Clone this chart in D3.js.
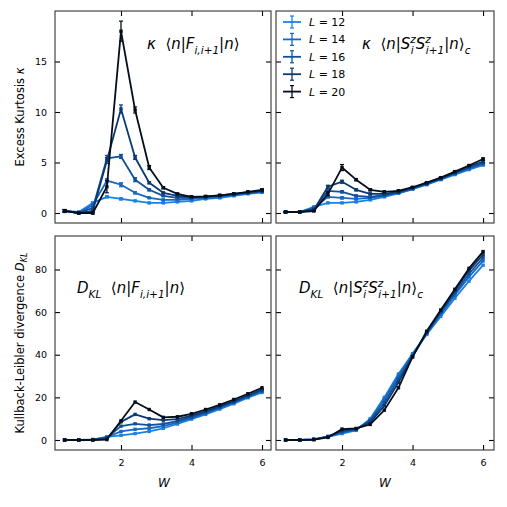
<!DOCTYPE html>
<html><head><meta charset="utf-8">
<script src="https://cdn.jsdelivr.net/npm/d3@7"></script>
<style>
body{margin:0;background:#fff}
svg{display:block}
text{font-family:"DejaVu Sans",sans-serif;fill:#000;white-space:pre}
</style>
</head><body>
<svg id="chart" width="507" height="507"></svg>
<script>
// system sizes and their line colours
var sizes=[12,14,16,18,20];
var colors=["#1a80e6","#1668c4","#10509c","#0a3a72","#050e1c"];

// disorder strength W
var W=[0.4,0.8,1.2,1.6,2.0,2.4,2.8,3.2,3.6,4.0,4.4,4.8,5.2,5.6,6.0];

// excess kurtosis of <n|F_{i,i+1}|n>
var kurtF=[
 [0.2,0.1,1.0,1.6,1.4,1.2,1.0,1.0,1.1,1.2,1.4,1.5,1.7,1.9,2.05],
 [0.2,0.0,0.8,3.2,2.8,2.0,1.5,1.3,1.3,1.4,1.5,1.6,1.8,1.95,2.1],
 [0.2,0.0,0.5,5.4,5.6,3.3,2.3,1.7,1.5,1.5,1.6,1.7,1.85,2.0,2.15],
 [0.2,0.0,0.2,5.2,10.3,5.5,3.0,2.0,1.7,1.6,1.6,1.75,1.9,2.05,2.2],
 [0.2,0.0,0.0,2.6,18.0,10.2,4.5,2.5,1.9,1.6,1.65,1.75,1.9,2.1,2.3]
];
var kurtFErr=[
 [0.1,0.05,0.1,0.1,0.1,0.05,0.05,0.05,0.05,0.05,0.05,0.05,0.05,0.05,0.05],
 [0.1,0.05,0.1,0.2,0.2,0.1,0.05,0.05,0.05,0.05,0.05,0.05,0.05,0.05,0.05],
 [0.1,0.05,0.1,0.3,0.2,0.2,0.1,0.05,0.05,0.05,0.05,0.05,0.05,0.05,0.05],
 [0.1,0.05,0.1,0.3,0.4,0.2,0.1,0.05,0.05,0.05,0.05,0.05,0.05,0.05,0.05],
 [0.15,0.05,0.1,0.6,1.0,0.3,0.2,0.1,0.05,0.05,0.05,0.05,0.05,0.05,0.1]
];

// excess kurtosis of <n|S^z_i S^z_{i+1}|n>_c
var kurtS=[
 [0.1,0.1,0.6,1.0,1.0,1.1,1.3,1.6,1.95,2.35,2.8,3.3,3.8,4.3,4.75],
 [0.1,0.1,0.5,1.6,1.5,1.4,1.5,1.7,2.0,2.4,2.85,3.35,3.9,4.4,4.85],
 [0.1,0.1,0.4,2.2,2.1,1.7,1.6,1.8,2.05,2.45,2.9,3.4,3.95,4.5,4.95],
 [0.1,0.1,0.3,2.6,3.1,2.3,1.9,1.9,2.1,2.5,2.95,3.45,4.0,4.6,5.1],
 [0.1,0.1,0.2,1.9,4.5,3.3,2.3,2.1,2.2,2.55,3.0,3.5,4.1,4.7,5.35]
];
var kurtSErr=[
 [0.05,0.05,0.05,0.05,0.05,0.05,0.05,0.05,0.05,0.05,0.05,0.05,0.05,0.05,0.05],
 [0.05,0.05,0.05,0.1,0.1,0.05,0.05,0.05,0.05,0.05,0.05,0.05,0.05,0.05,0.05],
 [0.05,0.05,0.05,0.1,0.1,0.05,0.05,0.05,0.05,0.05,0.05,0.05,0.05,0.05,0.05],
 [0.05,0.05,0.05,0.15,0.15,0.1,0.05,0.05,0.05,0.05,0.05,0.05,0.05,0.05,0.1],
 [0.05,0.05,0.05,0.2,0.3,0.1,0.1,0.05,0.05,0.05,0.05,0.05,0.05,0.05,0.1]
];

// Kullback-Leibler divergence of <n|F_{i,i+1}|n>
var dklF=[
 [0,0,0.2,1.5,2.2,3.0,4.0,5.5,7.5,9.8,12.0,14.5,17.0,19.8,22.3],
 [0,0,0.2,1.3,4.0,5.0,5.5,6.5,8.2,10.3,12.5,15.0,17.5,20.2,22.8],
 [0,0,0.1,1.0,6.5,7.6,7.0,7.5,8.8,10.8,13.0,15.4,17.9,20.6,23.2],
 [0,0,0.1,0.7,8.5,12.0,10.0,9.3,9.8,11.4,13.5,15.8,18.3,21.0,23.7],
 [0,0,0.0,0.2,9.0,17.8,14.3,10.6,10.9,12.3,14.3,16.5,19.0,21.7,24.5]
];

// Kullback-Leibler divergence of <n|S^z_i S^z_{i+1}|n>_c
var dklS=[
 [0,0,0.3,1.5,3.0,4.5,10.0,20.0,31.0,40.5,49.5,58.0,66.5,74.5,82.0],
 [0,0,0.3,1.6,3.5,4.8,9.5,19.0,30.0,40.0,50.0,59.0,68.0,76.5,84.0],
 [0,0,0.3,1.7,4.0,5.0,9.0,17.5,28.5,39.5,50.0,60.0,69.0,78.0,85.5],
 [0,0,0.2,1.5,4.5,5.2,8.3,16.0,27.0,39.0,50.5,60.5,70.0,79.5,87.0],
 [0,0,0.2,1.2,5.1,5.4,7.3,14.0,24.5,39.0,51.0,61.0,70.7,80.5,88.4]
];

var xTicks=[2,4,6];
var kurtTicks=[0,5,10,15];
var dklTicks=[0,20,40,60,80];

var svg=d3.select("#chart");

var panels=[
 {vals:kurtF,err:kurtFErr,x0:55,x1:271,y0:11,y1:223,ydom:[-0.99,20],yt:kurtTicks,ylab:true,xlab:false},
 {vals:kurtS,err:kurtSErr,x0:276,x1:494,y0:11,y1:223,ydom:[-0.99,20],yt:kurtTicks,ylab:false,xlab:false},
 {vals:dklF,err:null,x0:55,x1:271,y0:236,y1:450,ydom:[-4.7,95.7],yt:dklTicks,ylab:true,xlab:true},
 {vals:dklS,err:null,x0:276,x1:494,y0:236,y1:450,ydom:[-4.7,95.7],yt:dklTicks,ylab:false,xlab:true}
];

panels.forEach(function(p){
	var x=d3.scaleLinear().domain([0.128,6.255]).range([p.x0,p.x1]);
	if (p.x0>200){ x.domain([0.128,6.31]); }
	var y=d3.scaleLinear().domain(p.ydom).range([p.y1,p.y0]);
	var g=svg.append("g");

	var line=d3.line().x(function(d,i){return x(W[i]);}).y(function(d){return y(d);});

	p.vals.forEach(function(series,k){
		var c=colors[k];
		g.append("path").datum(series).attr("d",line)
			.attr("fill","none").attr("stroke",c).attr("stroke-width",1.8)
			.attr("stroke-linejoin","round");
		if (p.err){
			series.forEach(function(v,i){
				var e=p.err[k][i];
				var cx=x(W[i]);
				g.append("line").attr("x1",cx).attr("x2",cx)
					.attr("y1",y(v-e)).attr("y2",y(v+e)).attr("stroke",c).attr("stroke-width",1.3);
				[v-e,v+e].forEach(function(t){
					g.append("line").attr("x1",cx-2).attr("x2",cx+2)
						.attr("y1",y(t)).attr("y2",y(t)).attr("stroke",c).attr("stroke-width",1.2);
				});
			});
		}
		g.selectAll(null).data(series).enter().append("rect")
			.attr("x",function(d,i){return x(W[i])-1.7;})
			.attr("y",function(d){return y(d)-1.7;})
			.attr("width",3.4).attr("height",3.4).attr("fill",c);
	});

	// axes with inward ticks on all four sides
	var axL=d3.axisLeft(y).tickValues(p.yt).tickSize(-5).tickPadding(8).tickFormat(d3.format("d"));
	if (!p.ylab){ axL.tickFormat(""); }
	var axR=d3.axisRight(y).tickValues(p.yt).tickSize(-5).tickFormat("");
	var axB=d3.axisBottom(x).tickValues(xTicks).tickSize(-5).tickPadding(9).tickFormat(d3.format("d"));
	if (!p.xlab){ axB.tickFormat(""); }
	var axT=d3.axisTop(x).tickValues(xTicks).tickSize(-5).tickFormat("");

	[[axL,"translate("+p.x0+",0)"],[axR,"translate("+p.x1+",0)"],
	 [axB,"translate(0,"+p.y1+")"],[axT,"translate(0,"+p.y0+")"]].forEach(function(a){
		var ag=svg.append("g").attr("transform",a[1]).call(a[0]);
		ag.select(".domain").remove();
		ag.selectAll(".tick line").attr("stroke","#000").attr("stroke-width",1.1);
		ag.selectAll(".tick text").attr("fill","#000").style("font-size","9.5px")
			.style("font-family","DejaVu Sans");
	});

	svg.append("rect").attr("x",p.x0).attr("y",p.y0)
		.attr("width",p.x1-p.x0).attr("height",p.y1-p.y0)
		.attr("fill","none").attr("stroke","#333").attr("stroke-width",1.1);
});

// math-ish text from segments: [text, kind, dx] kind: r roman, i italic, sub, sup
function mathText(parent,x,y,size,segs){
	var t=parent.append("text").attr("x",x).attr("y",y).style("font-size",size+"px");
	var shift=0;
	segs.forEach(function(s){
		var ts=t.append("tspan").text(s[0]);
		var kind=s[1];
		if (kind==="i"){ ts.style("font-style","italic"); }
		var target=0;
		if (kind==="sub"||kind==="sup"){
			ts.style("font-style","italic").style("font-size",(size*0.7)+"px");
			target=(kind==="sub")?size*0.3:-size*0.4;
		}
		if (target!==shift){ ts.attr("dy",target-shift); shift=target; }
		if (s[2]){ ts.attr("dx",s[2]); }
	});
	return t;
}

var big=15;
mathText(svg,147,49,big,[["κ","i"],["  ⟨","r"],["n","i"],["|","r"],["F","i"],["i,i+1","sub"],["|","r"],["n","i"],["⟩","r"]]);
mathText(svg,362,49,big,[["κ","i"],["  ⟨","r"],["n","i"],["|","r"],["S","i"],["z","sup"],["i","sub",-5],["S","i",2],["z","sup"],["i+1","sub",-5],["|","r"],["n","i"],["⟩","r"],["c","sub"]]);
mathText(svg,77,293,big,[["D","i"],["KL","sub"],["  ⟨","r"],["n","i"],["|","r"],["F","i"],["i,i+1","sub"],["|","r"],["n","i"],["⟩","r"]]);
mathText(svg,299,293,big,[["D","i"],["KL","sub"],["  ⟨","r"],["n","i"],["|","r"],["S","i"],["z","sup"],["i","sub",-5],["S","i",2],["z","sup"],["i+1","sub",-5],["|","r"],["n","i"],["⟩","r"],["c","sub"]]);

// axis titles
var yl1=mathText(svg,0,0,11.5,[["Excess Kurtosis ","r"],["κ","i"]]);
yl1.attr("text-anchor","middle").attr("transform","translate(24,117) rotate(-90)");
var yl2=mathText(svg,0,0,11.5,[["Kullback-Leibler divergence ","r"],["D","i"],["KL","sub"]]);
yl2.attr("text-anchor","middle").attr("transform","translate(24,343) rotate(-90)");
mathText(svg,158,487,12,[["W","i"]]);
mathText(svg,379,487,12,[["W","i"]]);

// legend
var leg=svg.append("g");
sizes.forEach(function(L,k){
	var cy=22+k*17.4, cx=292, c=colors[k];
	leg.append("line").attr("x1",cx-9).attr("x2",cx+9).attr("y1",cy).attr("y2",cy)
		.attr("stroke",c).attr("stroke-width",1.8);
	leg.append("line").attr("x1",cx).attr("x2",cx).attr("y1",cy-6).attr("y2",cy+6)
		.attr("stroke",c).attr("stroke-width",1.3);
	[cy-6,cy+6].forEach(function(t){
		leg.append("line").attr("x1",cx-2).attr("x2",cx+2).attr("y1",t).attr("y2",t)
			.attr("stroke",c).attr("stroke-width",1.2);
	});
	mathText(leg,309,cy+4,11,[["L","i"],[" = "+L,"r"]]);
});
</script>
</body></html>
